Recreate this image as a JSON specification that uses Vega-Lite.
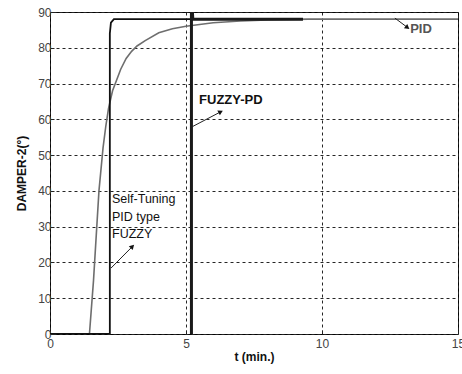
{
  "$schema": "https://vega.github.io/schema/vega-lite/v6.json",
  "width": 408,
  "height": 322,
  "autosize": "none",
  "padding": {"left": 50, "top": 12, "right": 4, "bottom": 40},
  "background": "white",
  "config": {
    "view": {"stroke": "#222", "strokeWidth": 1},
    "font": "Liberation Sans",
    "axis": {
      "grid": true,
      "gridColor": "#000",
      "gridDash": [3, 3],
      "gridOpacity": 0.85,
      "gridWidth": 1,
      "domain": false,
      "tickColor": "#222",
      "tickSize": -4,
      "labelOverlap": false,
      "labelFlush": false,
      "labelFont": "Liberation Sans",
      "labelFontSize": 12,
      "labelColor": "#444",
      "titleFont": "Liberation Sans",
      "titleFontSize": 12,
      "titleFontWeight": "bold",
      "titleColor": "#111"
    }
  },
  "datasets": {
    "lines": [
      {"series": "PID", "t": 0, "v": 0},
      {"series": "PID", "t": 1.45, "v": 0},
      {"series": "PID", "t": 1.6, "v": 15},
      {"series": "PID", "t": 1.8, "v": 40},
      {"series": "PID", "t": 1.95, "v": 52},
      {"series": "PID", "t": 2.05, "v": 58},
      {"series": "PID", "t": 2.15, "v": 63},
      {"series": "PID", "t": 2.3, "v": 68},
      {"series": "PID", "t": 2.45, "v": 71},
      {"series": "PID", "t": 2.6, "v": 74},
      {"series": "PID", "t": 2.8, "v": 77},
      {"series": "PID", "t": 3.0, "v": 79},
      {"series": "PID", "t": 3.2, "v": 80.5},
      {"series": "PID", "t": 3.5, "v": 82},
      {"series": "PID", "t": 4.0, "v": 84.2},
      {"series": "PID", "t": 4.5, "v": 85.3},
      {"series": "PID", "t": 5.0, "v": 86},
      {"series": "PID", "t": 6.0, "v": 87},
      {"series": "PID", "t": 7.0, "v": 87.5},
      {"series": "PID", "t": 8.0, "v": 87.8},
      {"series": "PID", "t": 9.5, "v": 88},
      {"series": "PID", "t": 15, "v": 88},
      {"series": "ST", "t": 0, "v": 0},
      {"series": "ST", "t": 2.2, "v": 0},
      {"series": "ST", "t": 2.2, "v": 84},
      {"series": "ST", "t": 2.24, "v": 87},
      {"series": "ST", "t": 2.35, "v": 88},
      {"series": "ST", "t": 9.3, "v": 88},
      {"series": "FPD", "t": 5.2, "v": 0},
      {"series": "FPD", "t": 5.2, "v": 95},
      {"series": "FPD", "t": 5.25, "v": 88},
      {"series": "FPD", "t": 9.3, "v": 88}
    ],
    "arrows": [
      {"name": "PID", "t": 12.68, "v": 88.3},
      {"name": "PID", "t": 13.12, "v": 85.8},
      {"name": "FPD", "t": 5.22, "v": 57.9},
      {"name": "FPD", "t": 6.25, "v": 62.0},
      {"name": "ST", "t": 2.24, "v": 18.4},
      {"name": "ST", "t": 3.01, "v": 24.3}
    ]
  },
  "encoding": {
    "x": {"field": "t", "type": "quantitative", "scale": {"domain": [0, 15], "nice": false}, "axis": {"values": [0, 5, 10, 15], "title": "t (min.)", "titlePadding": 2, "labelPadding": 8}},
    "y": {"field": "v", "type": "quantitative", "scale": {"domain": [0, 90], "nice": false}, "axis": {"values": [0, 10, 20, 30, 40, 50, 60, 70, 80, 90], "title": "DAMPER-2(°)", "titlePadding": 9, "labelPadding": 3}}
  },
  "layer": [
    {
      "data": {"name": "lines"},
      "transform": [{"filter": "datum.series === 'PID'"}],
      "mark": {"type": "line", "color": "#6e6e6e", "strokeWidth": 1.6, "clip": true},
      "encoding": {"order": {"field": "t"}}
    },
    {
      "data": {"name": "lines"},
      "transform": [{"filter": "datum.series === 'ST'"}],
      "mark": {"type": "line", "color": "#111", "strokeWidth": 1.8, "clip": true},
      "encoding": {}
    },
    {
      "data": {"name": "lines"},
      "transform": [{"filter": "datum.series === 'FPD'"}],
      "mark": {"type": "line", "color": "#1a1a1a", "strokeWidth": 3, "clip": true},
      "encoding": {}
    },
    {
      "data": {"name": "arrows"},
      "mark": {"type": "line", "color": "#222", "strokeWidth": 1},
      "encoding": {"detail": {"field": "name"}}
    },
    {
      "data": {"name": "arrows"},
      "transform": [{"filter": "datum.name === 'PID' && datum.v < 87"}],
      "mark": {"type": "point", "shape": "triangle", "angle": 127, "size": 30, "filled": true, "color": "#111", "opacity": 1}
    },
    {
      "data": {"name": "arrows"},
      "transform": [{"filter": "datum.name === 'FPD' && datum.v > 60"}],
      "mark": {"type": "point", "shape": "triangle", "angle": 62, "size": 30, "filled": true, "color": "#111", "opacity": 1}
    },
    {
      "data": {"name": "arrows"},
      "transform": [{"filter": "datum.name === 'ST' && datum.v > 20"}],
      "mark": {"type": "point", "shape": "triangle", "angle": 45, "size": 30, "filled": true, "color": "#111", "opacity": 1}
    },
    {
      "data": {"values": [
        {"label": "PID", "t": 13.24, "v": 85.2, "kind": "pid"},
        {"label": "FUZZY-PD", "t": 5.48, "v": 65.4, "kind": "fpd"}
      ]},
      "mark": {"type": "text", "align": "left", "baseline": "middle", "fontWeight": "bold", "fontSize": 13},
      "encoding": {
        "text": {"field": "label"},
        "color": {"field": "kind", "type": "nominal", "scale": {"domain": ["pid", "fpd"], "range": ["#555555", "#111111"]}, "legend": null}
      }
    },
    {
      "data": {"values": [
        {"label": "Self-Tuning\nPID type\nFUZZY", "t": 2.28, "v": 39.3}
      ]},
      "mark": {"type": "text", "align": "left", "baseline": "top", "fontSize": 12.5, "lineBreak": "\n", "lineHeight": 17.5, "color": "#111"},
      "encoding": {"text": {"field": "label"}}
    }
  ]
}
